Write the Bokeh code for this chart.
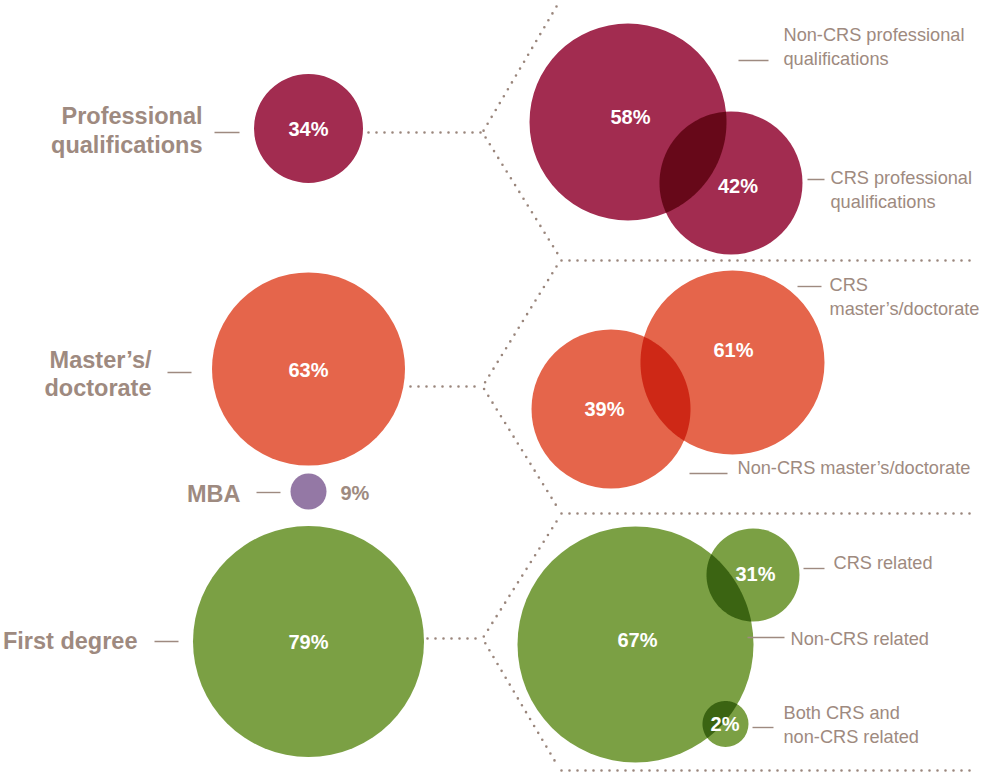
import math
from bokeh.plotting import figure
from bokeh.models import Range1d
from bokeh.core.properties import value
from bokeh.embed import file_html
from bokeh.resources import INLINE

# ---------------- data ----------------
main_labels = ["Professional\nqualifications", "Master\u2019s/\ndoctorate", "MBA", "First degree"]
main_values = [34, 63, 9, 79]

sub_labels = ["Non-CRS professional\nqualifications", "CRS professional\nqualifications",
              "CRS\nmaster\u2019s/doctorate", "Non-CRS master\u2019s/doctorate",
              "Non-CRS related", "CRS related", "Both CRS and\nnon-CRS related"]
sub_values = [58, 42, 61, 39, 67, 31, 2]
sub_group = [0, 0, 1, 1, 2, 2, 2]
overlap_pairs = [(0, 1), (3, 2), (4, 5), (4, 6)]

# ---------------- layout (pixels of the 986x780 page) ----------------
TXT_SHIFT = -7.5  # baseline correction for svg text placement

main_cx = [308, 308, 308, 308]
main_cy = [128, 368.5, 491, 641]
main_r = [54.5, 96.5, 18, 115.5]
main_colors = ["#a22c50", "#e5654b", "#9478a5", "#7ba044"]
main_label_x = [202, 151, 240, 137]
main_label_y = [123, 366.7, 500.7, 648]
main_lead = [(214, 239, 132), (167, 191, 372), (256, 280, 492), (154, 178, 641)]

sub_cx = [627.5, 730.5, 732, 610.5, 635, 752.5, 725]
sub_cy = [121.5, 182.5, 362, 408.5, 644, 574.5, 723.5]
sub_r = [98.5, 71.5, 92, 79.5, 118, 46.5, 23]
sub_pct_x = [630, 737.5, 733, 604, 637, 755, 724.5]
sub_pct_y = [124, 193, 357, 416, 647, 581, 731]
sub_label_x = [783, 830, 829, 737, 790, 833, 783]
sub_label_y = [42, 185, 292, 475, 646, 570, 720]
sub_lead = [(738, 768, 60), (807, 824, 179), (797, 821, 286), (689, 727, 473),
            (747, 784, 637), (803, 824, 568), (752, 773, 727)]
group_colors = ["#a22c50", "#e5654b", "#7ba044"]

# dotted connectors
conn_start_x = [368, 410, 427]
vertex_x = 482
vertex_y = [132, 386, 638]
arm_top = [6, 266, 521]
arm_bottom = [253, 507, 765]
arm_x = 556
sep_y = [260, 513, 770]
sep_x0, sep_x1 = 561, 975

GRAY = "#9e8a80"
DOT = "#9a867c"
FONT = value("Liberation Sans")

p = figure(width=980, height=776, x_range=Range1d(0, 980), y_range=Range1d(776, 0),
           output_backend="svg", toolbar_location=None, min_border=0,
           x_axis_location=None, y_axis_location=None)
p.grid.visible = False
p.outline_line_color = None
p.background_fill_color = "white"
p.border_fill_color = "white"

# dotted chevrons
for i in range(3):
    p.line([conn_start_x[i], vertex_x], [vertex_y[i], vertex_y[i]], line_color=DOT,
           line_width=2.6, line_dash="0 8", line_cap="round")
    p.line([arm_x, vertex_x, arm_x + 1], [arm_top[i], vertex_y[i], arm_bottom[i]],
           line_color=DOT, line_width=2.6, line_dash="0 8", line_cap="round", line_join="round")
    p.line([sep_x0, sep_x1], [sep_y[i], sep_y[i]], line_color=DOT, line_width=2.6,
           line_dash="0 8", line_cap="round")

# main circles
p.circle(x=main_cx, y=main_cy, radius=main_r, fill_color=main_colors, line_color=None)

# sub circles
sub_colors = [group_colors[g] for g in sub_group]
p.circle(x=sub_cx, y=sub_cy, radius=sub_r, fill_color=sub_colors, line_color=None)


def multiply(hexc):
    r, g, b = (int(hexc[k:k + 2], 16) for k in (1, 3, 5))
    return "#%02x%02x%02x" % (round(r * r / 255), round(g * g / 255), round(b * b / 255))


def lens(i, j, n=60):
    x1, y1, r1 = sub_cx[i], sub_cy[i], sub_r[i]
    x2, y2, r2 = sub_cx[j], sub_cy[j], sub_r[j]
    dx, dy = x2 - x1, y2 - y1
    d = math.hypot(dx, dy)
    a = (r1 * r1 - r2 * r2 + d * d) / (2 * d)
    th = math.atan2(dy, dx)
    a1 = math.acos(max(-1, min(1, a / r1)))
    a2 = math.acos(max(-1, min(1, (d - a) / r2)))
    xs, ys = [], []
    for k in range(n + 1):
        t = th - a1 + 2 * a1 * k / n
        xs.append(x1 + r1 * math.cos(t)); ys.append(y1 + r1 * math.sin(t))
    for k in range(n + 1):
        t = th + math.pi - a2 + 2 * a2 * k / n
        xs.append(x2 + r2 * math.cos(t)); ys.append(y2 + r2 * math.sin(t))
    return xs, ys


for i, j in overlap_pairs:
    xs, ys = lens(i, j)
    p.patch(xs, ys, fill_color=multiply(group_colors[sub_group[i]]), line_color=None)

# percentages
p.text(x=main_cx[:2] + [main_cx[3]],
       y=[main_cy[0] + 8 + TXT_SHIFT, main_cy[1] + 8 + TXT_SHIFT, main_cy[3] + 8 + TXT_SHIFT],
       text=[f"{v}%" for v in main_values[:2] + [main_values[3]]],
       text_font=FONT, text_font_size="20px", text_font_style="bold",
       text_color="white", text_align="center", text_baseline="alphabetic")
p.text(x=[main_cx[2] + main_r[2] + 14], y=[499.5 + TXT_SHIFT], text=[f"{main_values[2]}%"],
       text_font=FONT, text_font_size="20px", text_font_style="bold",
       text_color=GRAY, text_align="left", text_baseline="alphabetic")
p.text(x=sub_pct_x, y=[v + TXT_SHIFT for v in sub_pct_y], text=[f"{v}%" for v in sub_values],
       text_font=FONT, text_font_size="20px", text_font_style="bold",
       text_color="white", text_align="center", text_baseline="alphabetic")

# main labels (bold, right aligned)
mx, my, mt = [], [], []
for k, lab in enumerate(main_labels):
    for li, line in enumerate(lab.split("\n")):
        mx.append(main_label_x[k]); my.append(main_label_y[k] + li * 28.5 + TXT_SHIFT); mt.append(line)
p.text(x=mx, y=my, text=mt, text_font=FONT, text_font_size="23.5px", text_font_style="bold",
       text_color=GRAY, text_align="right", text_baseline="alphabetic")

# sub labels
sx, sy, st = [], [], []
for k, lab in enumerate(sub_labels):
    for li, line in enumerate(lab.split("\n")):
        sx.append(sub_label_x[k]); sy.append(sub_label_y[k] + li * 23.5 + TXT_SHIFT); st.append(line)
p.text(x=sx, y=sy, text=st, text_font=FONT, text_font_size="18.2px",
       text_color=GRAY, text_align="left", text_baseline="alphabetic")

# leader lines
for x0, x1, yy in main_lead + sub_lead:
    p.line([x0, x1], [yy, yy], line_color=GRAY, line_width=1.4)

open("out.html", "w").write(file_html(p, INLINE))
